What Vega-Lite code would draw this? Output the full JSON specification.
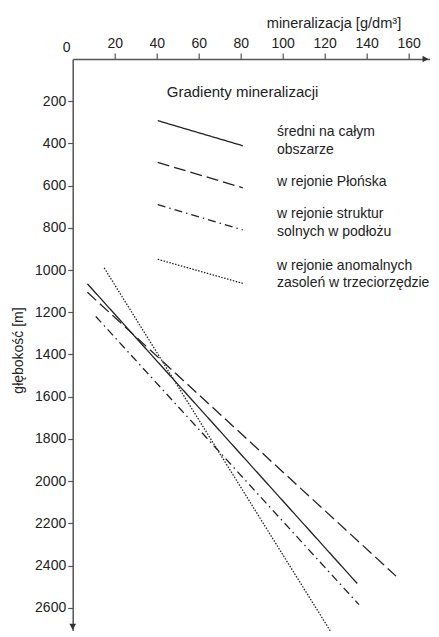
{
  "$schema": "https://vega.github.io/schema/vega-lite/v6.json",
  "width": 357,
  "height": 572,
  "autosize": {"type": "none"},
  "padding": {"left": 72.7, "top": 59, "right": 0, "bottom": 0},
  "config": {
    "view": {"stroke": null},
    "font": "Liberation Sans",
    "text": {"font": "Liberation Sans"}
  },
  "layer": [
    {
      "data": {"values": [
        {"series": "średni", "g": "s_d", "x": 7, "y": 1065},
        {"series": "średni", "g": "s_d", "x": 135.5, "y": 2485},
        {"series": "Płońsk", "g": "p_d", "x": 7, "y": 1105},
        {"series": "Płońsk", "g": "p_d", "x": 154, "y": 2450},
        {"series": "struktury", "g": "st_d", "x": 11, "y": 1220},
        {"series": "struktury", "g": "st_d", "x": 136.3, "y": 2585},
        {"series": "anomalne", "g": "a_d", "x": 15, "y": 990},
        {"series": "anomalne", "g": "a_d", "x": 123, "y": 2715},
        {"series": "średni", "g": "s_l", "x": 40.5, "y": 292},
        {"series": "średni", "g": "s_l", "x": 81, "y": 411},
        {"series": "Płońsk", "g": "p_l", "x": 40.5, "y": 490},
        {"series": "Płońsk", "g": "p_l", "x": 81, "y": 610},
        {"series": "struktury", "g": "st_l", "x": 40.5, "y": 690},
        {"series": "struktury", "g": "st_l", "x": 81, "y": 810},
        {"series": "anomalne", "g": "a_l", "x": 40.5, "y": 949},
        {"series": "anomalne", "g": "a_l", "x": 81, "y": 1063}
      ]},
      "mark": {"type": "line", "stroke": "#222", "strokeWidth": 1.3},
      "encoding": {
        "x": {
          "field": "x", "type": "quantitative",
          "scale": {"domain": [0, 170], "nice": false, "zero": false},
          "axis": {
            "orient": "top",
            "values": [20, 40, 60, 80, 100, 120, 140, 160],
            "format": "d",
            "title": "mineralizacja [g/dm³]",
            "titleX": 260.8, "titleY": -31.5,
            "titleBaseline": "alphabetic", "titleAlign": "center",
            "titleFontWeight": "normal", "titleFontSize": 14.6, "titleColor": "#222", "titleFont": "Liberation Sans",
            "labelFontSize": 14, "labelColor": "#222", "labelPadding": 3, "labelFont": "Liberation Sans",
            "tickSize": 6, "tickColor": "#555", "tickWidth": 1.2,
            "domainColor": "#555", "domainWidth": 1.5,
            "grid": false, "labelFlush": false
          }
        },
        "y": {
          "field": "y", "type": "quantitative",
          "scale": {"domain": [0, 2710], "nice": false, "zero": false, "reverse": true},
          "axis": {
            "orient": "left",
            "values": [200, 400, 600, 800, 1000, 1200, 1400, 1600, 1800, 2000, 2200, 2400, 2600],
            "format": "d",
            "title": "głębokość [m]",
            "titleX": -53.7, "titleY": 291,
            "titleBaseline": "middle", "titleAlign": "center", "titleAngle": -90,
            "titleFontWeight": "normal", "titleFontSize": 14, "titleColor": "#222", "titleFont": "Liberation Sans",
            "labelFontSize": 14, "labelColor": "#222", "labelPadding": 2, "labelFont": "Liberation Sans",
            "tickSize": 5, "tickColor": "#555", "tickWidth": 1.2,
            "domainColor": "#555", "domainWidth": 1.5,
            "grid": false, "labelFlush": false
          }
        },
        "strokeDash": {
          "field": "series", "type": "nominal",
          "scale": {"domain": ["średni", "Płońsk", "struktury", "anomalne"], "range": [[1, 0], [12, 5], [8, 4, 1.5, 4], [1.5, 1.5]]},
          "legend": null
        },
        "detail": {"field": "g"}
      }
    },
    {
      "data": {"values": [
        {"x": 97.3, "y": 346, "t": "średni na całym"},
        {"x": 97.3, "y": 431, "t": "obszarze"},
        {"x": 97.3, "y": 583, "t": "w rejonie Płońska"},
        {"x": 97.3, "y": 735, "t": "w rejonie struktur"},
        {"x": 97.3, "y": 820, "t": "solnych w podłożu"},
        {"x": 97.3, "y": 981, "t": "w rejonie anomalnych"},
        {"x": 97.3, "y": 1062, "t": "zasoleń w trzeciorzędzie"}
      ]},
      "mark": {"type": "text", "align": "left", "baseline": "middle", "fontSize": 14, "color": "#222"},
      "encoding": {
        "x": {"field": "x", "type": "quantitative"},
        "y": {"field": "y", "type": "quantitative"},
        "text": {"field": "t"}
      }
    },
    {
      "data": {"values": [
        {"x": 80.9, "y": 155, "t": "Gradienty mineralizacji"}
      ]},
      "mark": {"type": "text", "align": "center", "baseline": "middle", "fontSize": 15, "color": "#222"},
      "encoding": {
        "x": {"field": "x", "type": "quantitative"},
        "y": {"field": "y", "type": "quantitative"},
        "text": {"field": "t"}
      }
    },
    {
      "data": {"values": [
        {"x": 0, "y": 0, "t": "0"}
      ]},
      "mark": {"type": "text", "align": "center", "baseline": "middle", "fontSize": 14, "color": "#222", "dx": -6, "dy": -11},
      "encoding": {
        "x": {"field": "x", "type": "quantitative"},
        "y": {"field": "y", "type": "quantitative"},
        "text": {"field": "t"}
      }
    },
    {
      "data": {"values": [
        {"x": 168, "y": 0}
      ]},
      "mark": {"type": "point", "shape": "triangle-right", "filled": true, "color": "#333", "size": 45, "opacity": 1},
      "encoding": {
        "x": {"field": "x", "type": "quantitative"},
        "y": {"field": "y", "type": "quantitative"}
      }
    },
    {
      "data": {"values": [
        {"x": 0, "y": 2690}
      ]},
      "mark": {"type": "point", "shape": "triangle-down", "filled": true, "color": "#333", "size": 45, "opacity": 1},
      "encoding": {
        "x": {"field": "x", "type": "quantitative"},
        "y": {"field": "y", "type": "quantitative"}
      }
    }
  ]
}
